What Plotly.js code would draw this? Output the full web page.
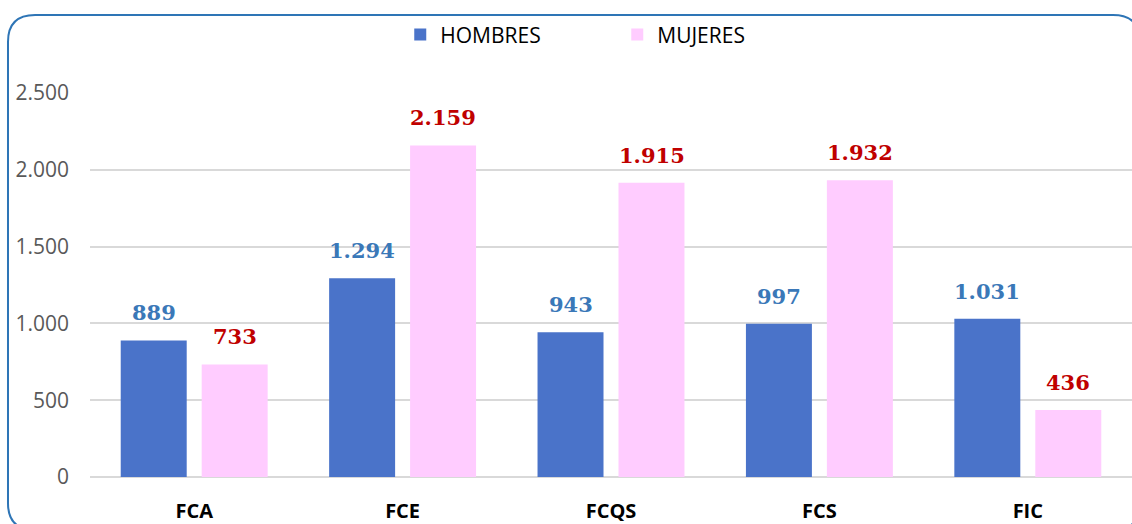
<!DOCTYPE html>
<html><head><meta charset="utf-8">
<script src="https://cdn.plot.ly/plotly-3.0.1.min.js"></script>
<style>html,body{margin:0;padding:0;background:#fff;}#chart{width:1132px;height:524px;}</style>
</head><body><div id="chart"></div>
<script>
const categories = ["FCA", "FCE", "FCQS", "FCS", "FIC"];
const hombres = [889, 1294, 943, 997, 1031];
const mujeres = [733, 2159, 1915, 1932, 436];
const seriesNames = ["HOMBRES", "MUJERES"];
const yTicks = [0, 500, 1000, 1500, 2000, 2500];

const fmt = v => v.toLocaleString('de-DE');
const labelFont = {family: "'DejaVu Serif', serif", size: 21, weight: 700};

const traces = [
  {type: 'bar', name: seriesNames[0], x: categories, y: hombres,
   marker: {color: '#4a73c9', line: {width: 0}}, hoverinfo: 'x+y'},
  {type: 'bar', name: seriesNames[1], x: categories, y: mujeres,
   marker: {color: '#ffccff', line: {width: 0}}, hoverinfo: 'x+y'}
];

const annotations = [];
categories.forEach((c, i) => {
  annotations.push({x: c, y: hombres[i], xref: 'x', yref: 'y', text: fmt(hombres[i]),
    showarrow: false, yanchor: 'bottom', xshift: -40.5, yshift: 13,
    font: Object.assign({color: '#3a78b8'}, labelFont)});
  annotations.push({x: c, y: mujeres[i], xref: 'x', yref: 'y', text: fmt(mujeres[i]),
    showarrow: false, yanchor: 'bottom', xshift: 40.5, yshift: 13,
    font: Object.assign({color: '#c00000'}, labelFont)});
});

const L = -0.0787, R = 1.0077, T = 1.203, B = -0.138, rx = 0.026, ry = 0.07;
const path = `M ${L+rx},${T} L ${R-rx},${T} Q ${R},${T} ${R},${T-ry} L ${R},${B+ry} Q ${R},${B} ${R-rx},${B} L ${L+rx},${B} Q ${L},${B} ${L},${B+ry} L ${L},${T-ry} Q ${L},${T} ${L+rx},${T} Z`;

const layout = {
  width: 1132, height: 524,
  margin: {l: 90, r: 0, t: 93, b: 47},
  paper_bgcolor: '#ffffff', plot_bgcolor: '#ffffff',
  separators: ',.',
  barmode: 'group', bargap: 0.223, bargroupgap: 0.185,
  showlegend: true,
  legend: {orientation: 'h', x: 0.506, xanchor: 'center', y: 1.205, yanchor: 'top',
    bgcolor: 'rgba(0,0,0,0)',
    font: {family: "'Open Sans', sans-serif", size: 21, color: '#000'},
    entrywidth: 172, itemsizing: 'constant'},
  xaxis: {type: 'category', showgrid: false, zeroline: false, showline: false, ticks: '',
    tickfont: {family: "'Open Sans', sans-serif", size: 20, color: '#000', weight: 700},
    ticklabelstandoff: 20},
  yaxis: {range: [0, 2500], tickvals: yTicks, ticktext: yTicks.map(fmt),
    showgrid: true, gridcolor: '#d9d9d9', gridwidth: 2,
    zeroline: true, zerolinecolor: '#d9d9d9', zerolinewidth: 2, showline: false, ticks: '',
    tickfont: {family: "'Open Sans', sans-serif", size: 21, color: '#595959'},
    ticklabelstandoff: 20},
  annotations: annotations,
  shapes: [{type: 'path', xref: 'paper', yref: 'paper', path: path,
    line: {color: '#2e75b6', width: 2}, fillcolor: 'rgba(0,0,0,0)', layer: 'above'}]
};

Plotly.newPlot('chart', traces, layout, {displayModeBar: false, staticPlot: true});
</script></body></html>
